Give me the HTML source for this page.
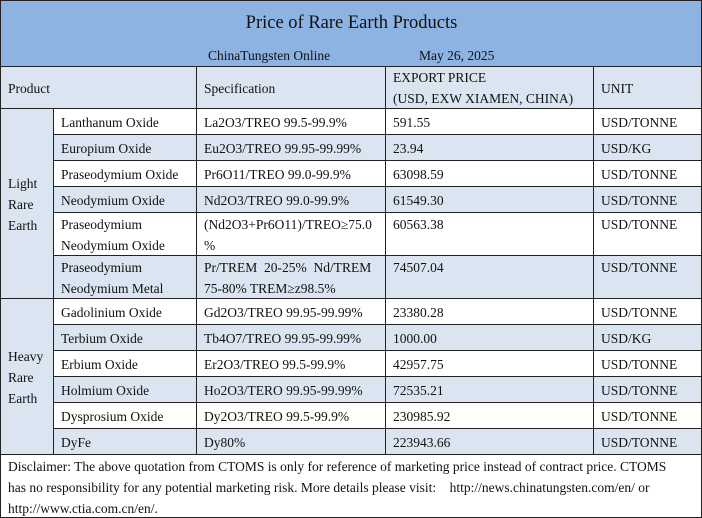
<!DOCTYPE html>
<html><head><meta charset="utf-8"><style>
body{margin:0;background:#fff;}
#c{position:absolute;left:0;top:0;width:702px;height:518px;box-sizing:border-box;border-right:1px solid #222;border-bottom:1px solid #222;overflow:hidden;}
.c{position:absolute;box-sizing:border-box;border-left:1px solid #222;border-top:1px solid #222;padding:0 0 0 7px;font-family:"Liberation Serif","DejaVu Serif","Times New Roman",serif;font-size:13.5px;line-height:21px;color:#111;display:flex;align-items:center;white-space:nowrap;}
.t{align-items:flex-start;padding-top:1px;}
.b{background:#dbe5f1;}
.w{background:#fff;}
</style></head><body>
<div id="c">
<div class="c" style="left:0;top:0;width:702px;height:67px;background:#8db3e2;padding:0;display:block;">
<div style="position:absolute;left:0;right:0;top:10px;text-align:center;font-size:18.5px;line-height:24px;">Price of Rare Earth Products</div>
<div style="position:absolute;left:207px;top:44px;">ChinaTungsten Online</div>
<div style="position:absolute;left:418px;top:44px;">May 26, 2025</div>
</div>
<div class="c b" style="left:0;top:66px;width:196px;height:43px">Product</div>
<div class="c b" style="left:196px;top:66px;width:189px;height:43px">Specification</div>
<div class="c b" style="left:385px;top:66px;width:208px;height:43px">EXPORT PRICE<br>(USD, EXW XIAMEN, CHINA)</div>
<div class="c b" style="left:593px;top:66px;width:109px;height:43px">UNIT</div>

<div class="c b" style="left:0;top:108px;width:53px;height:191px">Light<br>Rare<br>Earth</div>
<div class="c b" style="left:0;top:298px;width:53px;height:157px">Heavy<br>Rare<br>Earth</div>

<div class="c w" style="left:53px;top:108px;width:143px;height:27px">Lanthanum Oxide</div>
<div class="c w" style="left:196px;top:108px;width:189px;height:27px">La2O3/TREO 99.5-99.9%</div>
<div class="c w" style="left:385px;top:108px;width:208px;height:27px">591.55</div>
<div class="c w" style="left:593px;top:108px;width:109px;height:27px">USD/TONNE</div>

<div class="c b" style="left:53px;top:134px;width:143px;height:27px">Europium Oxide</div>
<div class="c b" style="left:196px;top:134px;width:189px;height:27px">Eu2O3/TREO 99.95-99.99%</div>
<div class="c b" style="left:385px;top:134px;width:208px;height:27px">23.94</div>
<div class="c b" style="left:593px;top:134px;width:109px;height:27px">USD/KG</div>

<div class="c w" style="left:53px;top:160px;width:143px;height:27px">Praseodymium Oxide</div>
<div class="c w" style="left:196px;top:160px;width:189px;height:27px">Pr6O11/TREO 99.0-99.9%</div>
<div class="c w" style="left:385px;top:160px;width:208px;height:27px">63098.59</div>
<div class="c w" style="left:593px;top:160px;width:109px;height:27px">USD/TONNE</div>

<div class="c b" style="left:53px;top:186px;width:143px;height:27px">Neodymium Oxide</div>
<div class="c b" style="left:196px;top:186px;width:189px;height:27px">Nd2O3/TREO 99.0-99.9%</div>
<div class="c b" style="left:385px;top:186px;width:208px;height:27px">61549.30</div>
<div class="c b" style="left:593px;top:186px;width:109px;height:27px">USD/TONNE</div>

<div class="c w" style="left:53px;top:212px;width:143px;height:44px">Praseodymium<br>Neodymium Oxide</div>
<div class="c w" style="left:196px;top:212px;width:189px;height:44px">(Nd2O3+Pr6O11)/TREO≥75.0<br>%</div>
<div class="c w t" style="left:385px;top:212px;width:208px;height:44px">60563.38</div>
<div class="c w t" style="left:593px;top:212px;width:109px;height:44px">USD/TONNE</div>

<div class="c b" style="left:53px;top:255px;width:143px;height:44px">Praseodymium<br>Neodymium Metal</div>
<div class="c b" style="left:196px;top:255px;width:189px;height:44px">Pr/TREM&nbsp; 20-25%&nbsp; Nd/TREM<br>75-80% TREM≥z98.5%</div>
<div class="c b t" style="left:385px;top:255px;width:208px;height:44px">74507.04</div>
<div class="c b t" style="left:593px;top:255px;width:109px;height:44px">USD/TONNE</div>

<div class="c w" style="left:53px;top:298px;width:143px;height:27px">Gadolinium Oxide</div>
<div class="c w" style="left:196px;top:298px;width:189px;height:27px">Gd2O3/TREO 99.95-99.99%</div>
<div class="c w" style="left:385px;top:298px;width:208px;height:27px">23380.28</div>
<div class="c w" style="left:593px;top:298px;width:109px;height:27px">USD/TONNE</div>

<div class="c b" style="left:53px;top:324px;width:143px;height:27px">Terbium Oxide</div>
<div class="c b" style="left:196px;top:324px;width:189px;height:27px">Tb4O7/TREO 99.95-99.99%</div>
<div class="c b" style="left:385px;top:324px;width:208px;height:27px">1000.00</div>
<div class="c b" style="left:593px;top:324px;width:109px;height:27px">USD/KG</div>

<div class="c w" style="left:53px;top:350px;width:143px;height:27px">Erbium Oxide</div>
<div class="c w" style="left:196px;top:350px;width:189px;height:27px">Er2O3/TREO 99.5-99.9%</div>
<div class="c w" style="left:385px;top:350px;width:208px;height:27px">42957.75</div>
<div class="c w" style="left:593px;top:350px;width:109px;height:27px">USD/TONNE</div>

<div class="c b" style="left:53px;top:376px;width:143px;height:27px">Holmium Oxide</div>
<div class="c b" style="left:196px;top:376px;width:189px;height:27px">Ho2O3/TERO 99.95-99.99%</div>
<div class="c b" style="left:385px;top:376px;width:208px;height:27px">72535.21</div>
<div class="c b" style="left:593px;top:376px;width:109px;height:27px">USD/TONNE</div>

<div class="c w" style="left:53px;top:402px;width:143px;height:27px">Dysprosium Oxide</div>
<div class="c w" style="left:196px;top:402px;width:189px;height:27px">Dy2O3/TREO 99.5-99.9%</div>
<div class="c w" style="left:385px;top:402px;width:208px;height:27px">230985.92</div>
<div class="c w" style="left:593px;top:402px;width:109px;height:27px">USD/TONNE</div>

<div class="c b" style="left:53px;top:428px;width:143px;height:27px">DyFe</div>
<div class="c b" style="left:196px;top:428px;width:189px;height:27px">Dy80%</div>
<div class="c b" style="left:385px;top:428px;width:208px;height:27px">223943.66</div>
<div class="c b" style="left:593px;top:428px;width:109px;height:27px">USD/TONNE</div>

<div class="c w" style="left:0;top:454px;width:702px;height:64px;display:block;padding-top:1px;">Disclaimer: The above quotation from CTOMS is only for reference of marketing price instead of contract price. CTOMS<br>has no responsibility for any potential marketing risk. More details please visit: &nbsp;&nbsp; http://news.chinatungsten.com/en/ or<br>http://www.ctia.com.cn/en/.</div>
</div>
</body></html>
